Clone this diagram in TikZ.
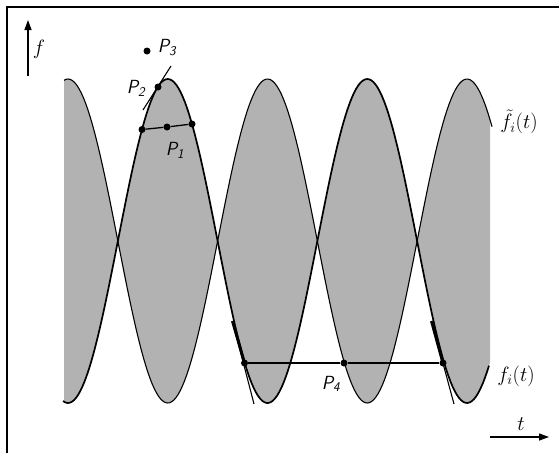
\documentclass[tikz,border=0pt]{standalone}
\usetikzlibrary{arrows.meta}
\newcommand{\ftil}[1]{241-162*cos(1.8045*(#1-68))}
\newcommand{\fcur}[1]{241+162*cos(1.8045*(#1-68))}

\begin{document}
\begin{tikzpicture}[x=1pt,y=-1pt,
  lab/.style={font=\fontsize{19}{22}\selectfont\sffamily\itshape,inner sep=1pt},
  mlab/.style={font=\fontsize{20}{24}\selectfont,inner sep=1pt},
  dot/.style={circle,fill,inner sep=0pt,minimum size=7pt},
  screen/.style={fill=black!30},
  axis/.style={line width=1.3pt,-{Triangle[length=10pt,width=7pt]}}]
\useasboundingbox (0,0) rectangle (559,453);
\draw[line width=1.2pt] (7,453) -- (7,7) -- (559,7);
% band between the two curves
\fill[screen] plot[domain=64:490,samples=200] (\x,{\ftil{\x}}) -- plot[domain=490:64,samples=200] (\x,{\fcur{\x}}) -- cycle;
\draw[line width=1.1pt] plot[domain=64:492,samples=200] (\x,{\ftil{\x}});
\draw[line width=1.7pt] plot[domain=63:489,samples=200] (\x,{\fcur{\x}});
% axes
\coordinate (fa) at (28,76);
\coordinate (fb) at (28,20);
\draw[axis] (fa) -- (fb);
\node[mlab] (flab) at (39,49) {$f$};
\coordinate (ta) at (490,437);
\coordinate (tb) at (549,437);
\draw[axis] (ta) -- (tb);
\node[mlab] (tlab) at (521,424) {$t$};
% P1, P2, P3
\node[dot] (p3) at (147,51) {};
\node[lab] (p3lab) at (167,48) {P\textsubscript{3}};
\node[dot] (p2) at (158,87) {};
\node[lab] (p2lab) at (136,88) {P\textsubscript{2}};
\coordinate (t2a) at (143,110);
\coordinate (t2b) at (171,66);
\draw[line width=1.1pt] (t2a) -- (t2b);
\node[dot] (c1a) at (142,129.5) {};
\node[dot] (p1) at (167,127) {};
\node[dot] (c1b) at (192,124) {};
\draw[line width=1.3pt] (c1a) -- (p1) -- (c1b);
\node[lab] (p1lab) at (175,150) {P\textsubscript{1}};
% P4
\node[dot] (c4a) at (244.5,363) {};
\node[dot] (p4) at (344,363) {};
\node[dot] (c4b) at (443,363) {};
\draw[line width=1.3pt] (c4a) -- (p4) -- (c4b);
\node[lab] (p4lab) at (331,384) {P\textsubscript{4}};
\coordinate (t4a) at (232.5,321);
\coordinate (t4b) at (254,404);
\draw[line width=1.1pt] (t4a) -- (t4b);
\draw[line width=3pt] (t4a) -- (c4a.center);
\coordinate (t5a) at (431.5,321);
\coordinate (t5b) at (454,404);
\draw[line width=1.1pt] (t5a) -- (t5b);
\draw[line width=3pt] (t5a) -- (c4b.center);
% curve labels
\node[mlab] (ftlab) at (519,122) {$\tilde{f}_i(t)$};
\node[mlab] (filab) at (516,376) {$f_i(t)$};
\end{tikzpicture}
\end{document}
